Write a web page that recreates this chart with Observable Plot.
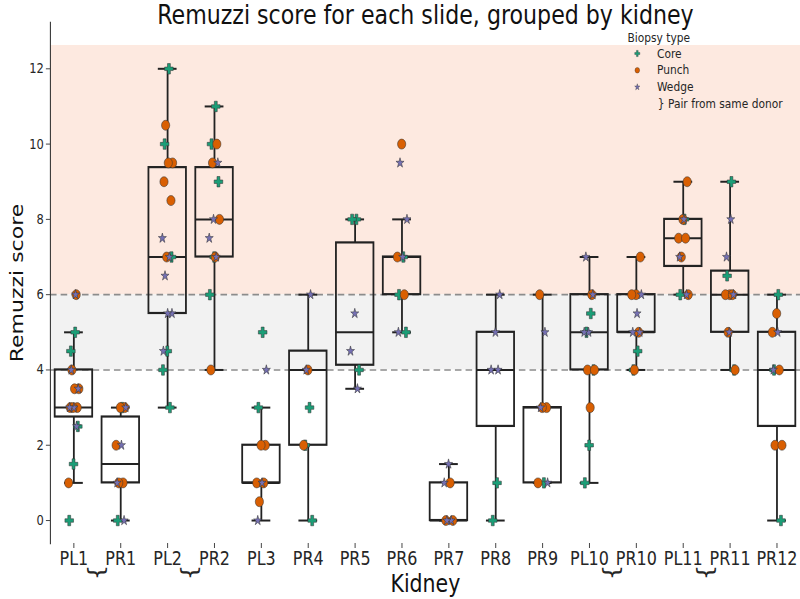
<!DOCTYPE html>
<html>
<head>
<meta charset="utf-8">
<script src="https://cdn.jsdelivr.net/npm/d3@7"></script>
<script src="https://cdn.jsdelivr.net/npm/@observablehq/plot@0.6"></script>
<style>
  html, body { margin: 0; padding: 0; background: #fff; overflow: hidden; }
  #chart svg { display: block; }
</style>
</head>
<body>
<div id="chart"></div>
<script>
// ---------- data ----------
const kidneys = ["PL1","PR1","PL2","PR2","PL3","PR4","PR5","PR6","PR7","PR8","PR9","PL10","PR10","PL11","PR11","PR12"];

// Remuzzi score of each slide, per kidney, per biopsy type
const coreScores = [
  [5, 4.5, 2.5, 1.5, 0],
  [3, 0],
  [12, 10, 7, 4.5, 4, 3],
  [11, 10, 9, 7, 6],
  [5, 3],
  [3, 2, 0],
  [8, 8, 4],
  [7, 6, 5],
  [],
  [1, 0],
  [1],
  [5.5, 5, 4, 2, 1],
  [4.5, 4],
  [8, 6],
  [9, 6.5, 4],
  [6, 4, 0]
];
const punchScores = [
  [6, 4, 3.5, 3.5, 3, 3, 3, 1],
  [3, 3, 2, 1, 1],
  [10.5, 9.5, 9.5, 9, 8.5, 7],
  [10, 9.5, 8, 7, 4],
  [2, 2, 1, 1, 0.5],
  [4, 2],
  [],
  [10, 7, 6],
  [1, 0, 0],
  [],
  [6, 3, 3, 1],
  [6, 4, 4, 3],
  [7, 6, 6, 5, 4],
  [9, 8, 7.5, 7.5, 7, 6],
  [6, 6, 6, 5, 4],
  [5.5, 5, 4, 2, 2]
];
const wedgeScores = [
  [6, 4, 3.5, 3, 3, 2.5],
  [3, 2, 1, 0],
  [7.5, 7, 6.5, 5.5, 5.5, 4.5],
  [9.5, 8, 7.5, 7],
  [4, 1, 0],
  [6, 4],
  [5.5, 4.5, 3.5],
  [9.5, 8, 7, 5],
  [1.5, 1, 0, 0],
  [6, 5, 4, 4],
  [5, 3, 1],
  [7, 6, 5, 5],
  [6, 5.5, 5, 5],
  [8, 7, 6],
  [8, 7, 6, 5],
  [5, 4]
];

// box-plot statistics as drawn in the reference
const boxQ1       = [2.75, 1, 5.5, 7, 1, 2, 4.125, 6, 0, 2.5, 1, 4, 5, 6.75, 5, 2.5];
const boxMedian   = [3, 1.5, 7, 8, 1, 4, 5, 7, 0, 4, 3, 5, 5, 7.5, 6, 4];
const boxQ3       = [4, 2.75, 9.375, 9.375, 2, 4.5, 7.375, 7, 1, 5, 3, 6, 6, 8, 6.625, 5];
const whiskerLow  = [1, 0, 3, 4, 0, 0, 3.5, 5, 0, 0, 1, 1, 4, 6, 4, 0];
const whiskerHigh = [5, 3, 12, 11, 3, 6, 8, 8, 1.5, 6, 6, 7, 7, 9, 9, 6];

const donorPairs = [["PL1","PR1"], ["PL2","PR2"], ["PL10","PR10"], ["PL11","PR11"]];
const biopsyTypes = ["Core", "Punch", "Wedge"];
const zoneLimits = [[4, 6], [6, 12.62]];   // grey zone, red zone
const yTicks = [0, 2, 4, 6, 8, 10, 12];

// ---------- derived tables ----------
const scoresByType = {Core: coreScores, Punch: punchScores, Wedge: wedgeScores};
const rows = [];
const seen = {};
kidneys.forEach((k, i) => {
  biopsyTypes.forEach(t => {
    scoresByType[t][i].forEach(v => {
      const n = seen[i] = (seen[i] || 0) + 1;
      // deterministic strip-plot jitter
      const jit = (((n * 0.6180339887) % 1) - 0.5) * 0.24;
      rows.push({kidney: k, i, type: t, score: v, xj: i + jit});
    });
  });
});
const boxes = kidneys.map((k, i) => ({
  kidney: k, i, q1: boxQ1[i], med: boxMedian[i], q3: boxQ3[i], lo: whiskerLow[i], hi: whiskerHigh[i]
}));
const pairMid = donorPairs.map(([a, b]) => ({x: (kidneys.indexOf(a) + kidneys.indexOf(b)) / 2}));
const zones = zoneLimits.map(([a, b], k) => ({y1: a, y2: b, k}));
const thresholds = [zoneLimits[0][0], zoneLimits[0][1]];

// ---------- styling ----------
const colors = {Core: "#1b9e77", Punch: "#d95f02", Wedge: "#7570b3"};
const symbols = {Core: "cross", Punch: "circle", Wedge: "star"};
const radii = {Core: 4.4, Punch: 5, Wedge: 3.1};
const legendRadii = {Core: 2.6, Punch: 2.8, Wedge: 2.0};
const zoneFill = ["#f2f2f2", "#fde9e0"];
const lineColor = "#222";
const W = 976, H = 599;   // drawn wide, then squeezed to 800 px as in the reference

const legendMarks = [];
const legendRowY = k => 31 + k * 16.8;
legendMarks.push(Plot.text(["Biopsy type"], {frameAnchor: "top-right", dx: -211, dy: 15, textAnchor: "start", lineAnchor: "middle", fontSize: 13, fill: "#262626"}));
biopsyTypes.forEach((t, k) => {
  legendMarks.push(Plot.dot([t], {frameAnchor: "top-right", dx: -199, dy: legendRowY(k), symbol: symbols[t], r: legendRadii[t], fill: colors[t], stroke: "#333", strokeWidth: 0.4}));
  legendMarks.push(Plot.text([t], {frameAnchor: "top-right", dx: -175, dy: legendRowY(k), textAnchor: "start", lineAnchor: "middle", fontSize: 13, fill: "#262626"}));
});
legendMarks.push(Plot.text(["} Pair from same donor"], {frameAnchor: "top-right", dx: -174, dy: legendRowY(3), textAnchor: "start", lineAnchor: "middle", fontSize: 13, fill: "#262626"}));

const plot = Plot.plot({
  width: W,
  height: H,
  marginLeft: 61,
  marginRight: 0,
  marginTop: 22,
  marginBottom: 56,
  x: {type: "linear", domain: [-0.5, kidneys.length - 0.5], axis: null},
  y: {domain: [-0.61, 13.23], axis: null},
  style: {fontFamily: "DejaVu Sans", color: "#262626", background: "#fff", overflow: "visible"},
  marks: [
    // background zones
    Plot.rect(zones, {x1: -0.5, x2: kidneys.length - 0.5, y1: "y1", y2: "y2", fill: d => zoneFill[d.k]}),
    Plot.ruleY(thresholds, {stroke: "#8c8c8c", strokeWidth: 1.6, strokeDasharray: "8,5"}),
    // axes
    Plot.frame({anchor: "left", stroke: "#333", strokeWidth: 1.3}),
    Plot.axisY({ticks: yTicks, tickSize: 5, tickPadding: 3, fontSize: 14, label: null, stroke: "#333"}),
    Plot.axisX({ticks: kidneys.map((_, i) => i), tickFormat: i => kidneys[i], tickSize: 5, tickPadding: 3, fontSize: 19.5, label: null, stroke: "#333"}),
    // box plots
    Plot.ruleX(boxes, {x: "i", y1: "q3", y2: "hi", stroke: lineColor, strokeWidth: 2.2}),
    Plot.ruleX(boxes, {x: "i", y1: "lo", y2: "q1", stroke: lineColor, strokeWidth: 2.2}),
    Plot.ruleY(boxes, {y: "hi", x1: d => d.i - 0.2, x2: d => d.i + 0.2, stroke: lineColor, strokeWidth: 2}),
    Plot.ruleY(boxes, {y: "lo", x1: d => d.i - 0.2, x2: d => d.i + 0.2, stroke: lineColor, strokeWidth: 2}),
    Plot.rect(boxes, {x1: d => d.i - 0.4, x2: d => d.i + 0.4, y1: "q1", y2: "q3", fill: "none", stroke: lineColor, strokeWidth: 2.2}),
    Plot.ruleY(boxes, {y: "med", x1: d => d.i - 0.4, x2: d => d.i + 0.4, stroke: lineColor, strokeWidth: 2}),
    // slides
    ...biopsyTypes.map(t => Plot.dot(rows.filter(r => r.type === t), {
      x: "xj", y: "score", symbol: symbols[t], r: radii[t], fill: colors[t], stroke: "#333", strokeWidth: 0.6
    })),
    // donor pair braces under the axis
    Plot.text(pairMid, {x: "x", frameAnchor: "bottom", dy: 29, text: () => "}", rotate: 90, fontSize: 25, textAnchor: "middle", lineAnchor: "middle", fill: "#262626"}),
    // titles
    Plot.text(["Remuzzi score for each slide, grouped by kidney"], {frameAnchor: "top", dy: -7.6, lineAnchor: "middle", fontSize: 27, fill: "#111"}),
    Plot.text(["Kidney"], {frameAnchor: "bottom", dy: 40, lineAnchor: "middle", fontSize: 25, fill: "#111"}),
    Plot.text(["Remuzzi score"], {frameAnchor: "left", dx: -41, rotate: -90, textAnchor: "middle", lineAnchor: "middle", fontSize: 22, fill: "#111"}),
    ...legendMarks
  ]
});

plot.setAttribute("viewBox", `0 0 ${W} ${H}`);
plot.setAttribute("preserveAspectRatio", "none");
plot.setAttribute("width", 800);
plot.setAttribute("height", 599);
plot.style.width = "800px";
plot.style.height = "599px";
plot.style.maxWidth = "none";
document.getElementById("chart").appendChild(plot);
</script>
</body>
</html>
